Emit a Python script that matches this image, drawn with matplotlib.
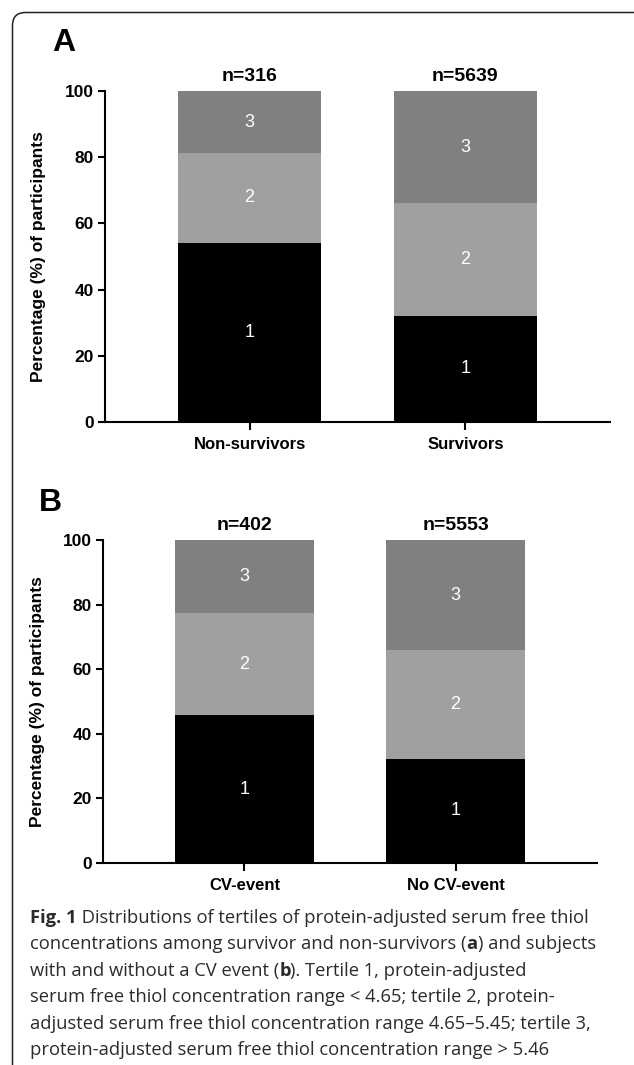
import matplotlib
matplotlib.use('Agg')
import matplotlib.pyplot as plt
from matplotlib.patches import FancyBboxPatch
from matplotlib.transforms import IdentityTransform

# Panel A: survivors vs non-survivors
groups_a = ['Non-survivors', 'Survivors']
n_a = [316, 5639]
tertile1_a = [54.2, 32.1]
tertile2_a = [27.0, 34.0]
tertile3_a = [18.8, 33.9]

# Panel B: CV event vs no CV event
groups_b = ['CV-event', 'No CV-event']
n_b = [402, 5553]
tertile1_b = [45.8, 32.3]
tertile2_b = [31.6, 33.6]
tertile3_b = [22.6, 34.1]

tertile_names = ['1', '2', '3']
tertile_colors = ['#000000', '#a0a0a3', '#808080']

caption_lines = [
    [('Fig. 1', True), (' Distributions of tertiles of protein-adjusted serum free thiol', False)],
    [('concentrations among survivor and non-survivors (', False), ('a', True), (') and subjects', False)],
    [('with and without a CV event (', False), ('b', True), ('). Tertile 1, protein-adjusted', False)],
    [('serum free thiol concentration range < 4.65; tertile 2, protein-', False)],
    [('adjusted serum free thiol concentration range 4.65\u20135.45; tertile 3,', False)],
    [('protein-adjusted serum free thiol concentration range > 5.46', False)],
]

W, H = 634, 1065
plt.rcParams['font.family'] = ['Liberation Sans', 'DejaVu Sans']
fig = plt.figure(figsize=(W / 100, H / 100), dpi=100)


def px_rect(left, right, top, bottom):
    return [left / W, 1 - bottom / H, (right - left) / W, (bottom - top) / H]


def draw_panel(ax, groups, ns, segs, letter):
    x = range(len(groups))
    bottom = [0] * len(groups)
    for seg, name, col in zip(segs, tertile_names, tertile_colors):
        ax.bar(x, seg, bottom=bottom, width=0.66, color=col, edgecolor='none')
        for i, (b, v) in enumerate(zip(bottom, seg)):
            ax.text(i, b + v / 2, name, ha='center', va='center', color='white',
                    fontsize=13)
        bottom = [b + v for b, v in zip(bottom, seg)]
    for i, (top, n) in enumerate(zip(bottom, ns)):
        ax.annotate(f'n={n}', xy=(i, top), xytext=(0, 4.5), textcoords='offset points',
                    ha='center', va='bottom', fontsize=14, fontweight='bold')
    ax.set_xlim(-0.67, 1.67)
    ax.set_ylim(0, 100)
    ax.set_yticks([0, 20, 40, 60, 80, 100])
    ax.set_xticks(list(x))
    ax.set_xticklabels(groups, fontsize=12, fontweight='bold')
    for lab in ax.get_yticklabels():
        lab.set_fontweight('bold')
        lab.set_fontsize(12.5)
    ax.tick_params(axis='y', length=5, width=1.5, pad=3)
    ax.tick_params(axis='x', length=6, width=1.5, pad=5)
    for side in ['top', 'right']:
        ax.spines[side].set_visible(False)
    for side in ['left', 'bottom']:
        ax.spines[side].set_linewidth(1.5)
    ax.set_ylabel('Percentage (%) of participants', fontsize=12.5, fontweight='bold')
    ax.yaxis.set_label_coords(-0.117, 0.5)
    ax.text(-0.105, 1.145, letter, transform=ax.transAxes, fontsize=23,
            fontweight='bold', ha='left', va='center')


ax_a = fig.add_axes(px_rect(105, 610, 91, 422))
draw_panel(ax_a, groups_a, n_a, [tertile1_a, tertile2_a, tertile3_a], 'A')
ax_b = fig.add_axes(px_rect(103, 597, 540, 863))
draw_panel(ax_b, groups_b, n_b, [tertile1_b, tertile2_b, tertile3_b], 'B')
ax_b.texts[-1].set_position((-0.13, 1.115))

# rounded frame around the whole figure (right and bottom edges run off the canvas)
frame = FancyBboxPatch((12.5, -40), 660, H - 12.5 + 40, boxstyle='round,pad=0,rounding_size=13',
                       transform=IdentityTransform(), facecolor='none', edgecolor='#222222',
                       linewidth=1.1)
fig.patches.append(frame)

# caption with bold runs
renderer = fig.canvas.get_renderer()
cap_font = ['Open Sans', 'DejaVu Sans']
cap_size = 13.2


def text_width(s, bold):
    weight = 'bold' if bold else 'normal'
    t1 = fig.text(0, 0, 'x' + s + 'x', fontsize=cap_size, family=cap_font, fontweight=weight)
    t2 = fig.text(0, 0, 'xx', fontsize=cap_size, family=cap_font, fontweight=weight)
    w = t1.get_window_extent(renderer).width - t2.get_window_extent(renderer).width
    t1.remove()
    t2.remove()
    return w


for k, line in enumerate(caption_lines):
    xpos = 30
    ybase = 923 + k * 26.4
    for s, bold in line:
        fig.text(xpos / W, 1 - ybase / H, s, fontsize=cap_size, family=cap_font,
                 fontweight='bold' if bold else 'normal', color='#2b2b2b',
                 ha='left', va='baseline')
        xpos += text_width(s, bold)

fig.savefig('out.png', dpi=100)
